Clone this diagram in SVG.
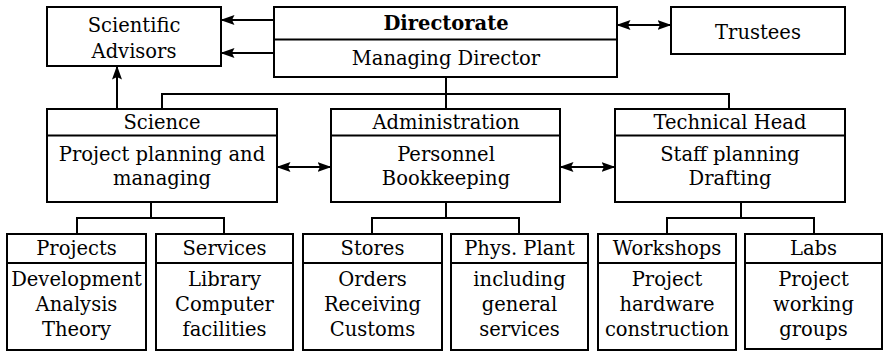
<svg xmlns="http://www.w3.org/2000/svg" width="883" height="353" viewBox="0 0 883 353">
<style>
  .box { fill: #fff; stroke: #000; stroke-width: 2; }
  .div { stroke: #000; stroke-width: 2; }
  .t { font-family: "DejaVu Serif", "Liberation Serif", serif; font-size: 19.5px; fill: #000; text-anchor: middle; }
  .b { font-weight: bold; }
  .c { fill: none; stroke: #000; stroke-width: 2; }
  .a { fill: none; stroke: #000; stroke-width: 2; marker-end: url(#ah); }
  .d { fill: none; stroke: #000; stroke-width: 2; marker-end: url(#ah); marker-start: url(#ah); }
</style>
<defs>
  <marker id="ah" viewBox="0 0 14 10" refX="13.5" refY="5" markerWidth="14" markerHeight="10" markerUnits="userSpaceOnUse" orient="auto-start-reverse">
    <path d="M0,0 L14,5 L0,10 L2.5,5 Z" fill="#000"/>
  </marker>
</defs>
<rect width="883" height="353" fill="#fff"/>

<g id="connectors">
  <path class="a" d="M274,20 H221"/>
  <path class="a" d="M274,53 H221"/>
  <path class="d" d="M617,25 H671"/>
  <path class="a" d="M117,109 V66"/>
  <path class="c" d="M446,77 V109 M162,109 V94 H729 V109"/>
  <path class="d" d="M277,167 H331"/>
  <path class="d" d="M560,167 H615"/>
  <path class="c" d="M151,202 V218 M77,234 V218 H224 V234"/>
  <path class="c" d="M446,202 V218 M372,234 V218 H519 V234"/>
  <path class="c" d="M741,202 V218 M667,234 V218 H814 V234"/>
</g>

<g id="scientific-advisors">
  <rect class="box" x="47" y="7" width="174" height="59"/>
  <text class="t" x="134" y="32">Scientific</text>
  <text class="t" x="134" y="58">Advisors</text>
</g>

<g id="directorate">
  <rect class="box" x="274" y="7" width="343" height="70"/>
  <line class="div" x1="274" y1="39.5" x2="617" y2="39.5"/>
  <text class="t b" x="446" y="30">Directorate</text>
  <text class="t" x="446" y="65">Managing Director</text>
</g>

<g id="trustees">
  <rect class="box" x="671" y="7" width="174" height="47"/>
  <text class="t" x="758" y="39">Trustees</text>
</g>

<g id="science">
  <rect class="box" x="47" y="109" width="230" height="93"/>
  <line class="div" x1="47" y1="135.5" x2="277" y2="135.5"/>
  <text class="t" x="162" y="129">Science</text>
  <text class="t" x="162" y="161">Project planning and</text>
  <text class="t" x="162" y="185">managing</text>
</g>

<g id="administration">
  <rect class="box" x="331" y="109" width="229" height="93"/>
  <line class="div" x1="331" y1="135.5" x2="560" y2="135.5"/>
  <text class="t" x="446" y="129">Administration</text>
  <text class="t" x="446" y="161">Personnel</text>
  <text class="t" x="446" y="185">Bookkeeping</text>
</g>

<g id="technical-head">
  <rect class="box" x="615" y="109" width="230" height="93"/>
  <line class="div" x1="615" y1="135.5" x2="845" y2="135.5"/>
  <text class="t" x="730" y="129">Technical Head</text>
  <text class="t" x="730" y="161">Staff planning</text>
  <text class="t" x="730" y="185">Drafting</text>
</g>

<g id="projects">
  <rect class="box" x="7" y="234" width="139" height="116"/>
  <line class="div" x1="7" y1="263" x2="146" y2="263"/>
  <text class="t" x="76.5" y="255">Projects</text>
  <text class="t" x="76.5" y="286">Development</text>
  <text class="t" x="76.5" y="311">Analysis</text>
  <text class="t" x="76.5" y="336">Theory</text>
</g>

<g id="services">
  <rect class="box" x="156" y="234" width="137" height="116"/>
  <line class="div" x1="156" y1="263" x2="293" y2="263"/>
  <text class="t" x="224.5" y="255">Services</text>
  <text class="t" x="224.5" y="286">Library</text>
  <text class="t" x="224.5" y="311">Computer</text>
  <text class="t" x="224.5" y="336">facilities</text>
</g>

<g id="stores">
  <rect class="box" x="303" y="234" width="139" height="116"/>
  <line class="div" x1="303" y1="263" x2="442" y2="263"/>
  <text class="t" x="372.5" y="255">Stores</text>
  <text class="t" x="372.5" y="286">Orders</text>
  <text class="t" x="372.5" y="311">Receiving</text>
  <text class="t" x="372.5" y="336">Customs</text>
</g>

<g id="phys-plant">
  <rect class="box" x="451" y="234" width="137" height="116"/>
  <line class="div" x1="451" y1="263" x2="588" y2="263"/>
  <text class="t" x="519.5" y="255">Phys. Plant</text>
  <text class="t" x="519.5" y="286">including</text>
  <text class="t" x="519.5" y="311">general</text>
  <text class="t" x="519.5" y="336">services</text>
</g>

<g id="workshops">
  <rect class="box" x="598" y="234" width="138" height="116"/>
  <line class="div" x1="598" y1="263" x2="736" y2="263"/>
  <text class="t" x="667" y="255">Workshops</text>
  <text class="t" x="667" y="286">Project</text>
  <text class="t" x="667" y="311">hardware</text>
  <text class="t" x="667" y="336">construction</text>
</g>

<g id="labs">
  <rect class="box" x="745" y="234" width="137" height="115"/>
  <line class="div" x1="745" y1="263" x2="882" y2="263"/>
  <text class="t" x="813.5" y="255">Labs</text>
  <text class="t" x="813.5" y="286">Project</text>
  <text class="t" x="813.5" y="311">working</text>
  <text class="t" x="813.5" y="336">groups</text>
</g>
</svg>
